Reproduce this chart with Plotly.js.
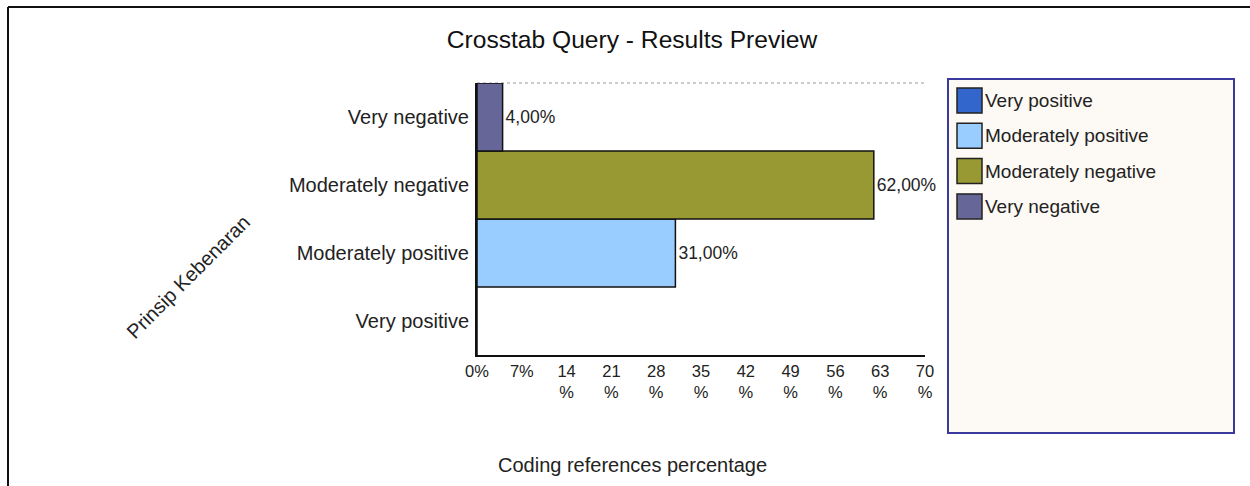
<!DOCTYPE html>
<html>
<head>
<meta charset="utf-8">
<script src="https://cdn.plot.ly/plotly-3.0.1.min.js"></script>
<style>html,body{margin:0;padding:0;background:#fff}#chart{width:1250px;height:486px}</style>
</head>
<body>
<div id="chart"></div>
<script>
// Data (categories bottom-to-top on the axis; legend order top-to-bottom)
const categories = ['Very positive', 'Moderately positive', 'Moderately negative', 'Very negative'];
const values = [0, 31, 62, 4];
const colors = ['#3366cc', '#99ccff', '#999933', '#666699'];
const tickVals = [0, 7, 14, 21, 28, 35, 42, 49, 56, 63, 70];
const tickLabels = ['0%', '7%', '14<br>%', '21<br>%', '28<br>%', '35<br>%', '42<br>%', '49<br>%', '56<br>%', '63<br>%', '70<br>%'];

const W = 1250, H = 486;
const L = 477, R = 925, T = 83, B = 355;
const px = x => (x - L) / (R - L);
const py = y => (B - y) / (B - T);
const FONT = '"Liberation Sans", Arial, sans-serif';

const labels = values.map(v => v > 0 ? v.toFixed(2).replace('.', ',') + '%' : '');

const trace = {
  type: 'bar',
  orientation: 'h',
  y: categories,
  x: values,
  text: labels,
  textposition: 'outside',
  cliponaxis: false,
  textfont: {family: FONT, size: 17.5, color: '#222'},
  marker: {color: colors, line: {color: '#111', width: 1.5}},
  hoverinfo: 'none',
  showlegend: false
};

const shapes = [
  // dotted top border of the plot area
  {type: 'line', xref: 'paper', yref: 'paper', x0: 0, x1: 1, y0: 1, y1: 1, layer: 'below',
   line: {color: '#999', width: 1, dash: 'dot'}},
  // outer frame (top and left)
  {type: 'line', xref: 'paper', yref: 'paper', x0: px(8), x1: px(1252), y0: py(7), y1: py(7),
   line: {color: '#111', width: 2}},
  {type: 'line', xref: 'paper', yref: 'paper', x0: px(8), x1: px(8), y0: py(7), y1: py(490),
   line: {color: '#111', width: 2}},
  // legend box
  {type: 'rect', xref: 'paper', yref: 'paper', x0: px(948), x1: px(1234), y0: py(433), y1: py(79),
   fillcolor: '#fdf9f4', line: {color: '#3a3a9e', width: 2}}
];

const annotations = [
  {xref: 'paper', yref: 'paper', x: px(632), y: py(465), text: 'Coding references percentage',
   showarrow: false, xanchor: 'center', yanchor: 'middle', font: {family: FONT, size: 20, color: '#222'}},
  {xref: 'paper', yref: 'paper', x: px(188), y: py(277), text: 'Prinsip Kebenaran', textangle: -45,
   showarrow: false, xanchor: 'center', yanchor: 'middle', font: {family: FONT, size: 20, color: '#222'}}
];

// custom legend, order top to bottom as in the reference
categories.forEach((c, i) => {
  const cy = 100.5 + 35.3 * i;
  shapes.push({type: 'rect', xref: 'paper', yref: 'paper', x0: px(957), x1: px(982),
    y0: py(cy + 12.5), y1: py(cy - 12.5), fillcolor: colors[i], line: {color: '#222', width: 1.5}});
  annotations.push({xref: 'paper', yref: 'paper', x: px(983), y: py(cy), text: c, showarrow: false,
    xanchor: 'left', yanchor: 'middle', font: {family: FONT, size: 19, color: '#222'}});
});

const layout = {
  width: W, height: H,
  margin: {l: L, r: W - R, t: T, b: H - B, pad: 0},
  paper_bgcolor: '#fff', plot_bgcolor: '#fff',
  separators: ',.',
  bargap: 0,
  title: {text: 'Crosstab Query - Results Preview', xref: 'container', yref: 'container',
    x: 632 / W, y: 1 - 39 / H, xanchor: 'center', yanchor: 'middle',
    font: {family: FONT, size: 24.6, color: '#111'}},
  xaxis: {range: [0, 70], tickvals: tickVals, ticktext: tickLabels, showgrid: false, zeroline: false,
    showline: true, linecolor: '#111', linewidth: 2, ticks: '', fixedrange: true,
    tickfont: {family: FONT, size: 16.5, color: '#222'}},
  yaxis: {type: 'category', categoryorder: 'array', categoryarray: categories, showgrid: false,
    zeroline: false, showline: true, linecolor: '#111', linewidth: 2, ticks: '', ticklabelstandoff: 2,
    fixedrange: true, tickfont: {family: FONT, size: 20, color: '#222'}},
  shapes: shapes,
  annotations: annotations,
  showlegend: false
};

Plotly.newPlot('chart', [trace], layout, {displayModeBar: false, staticPlot: true});
</script>
</body>
</html>
